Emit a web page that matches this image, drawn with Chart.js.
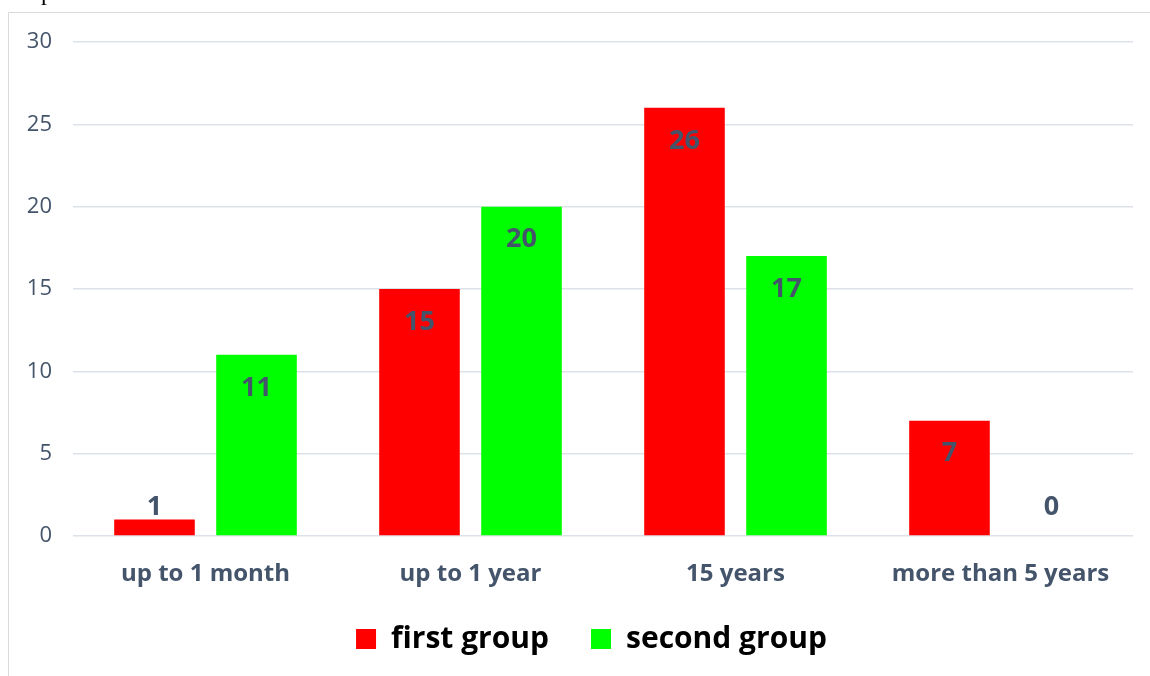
<!DOCTYPE html>
<html>
<head>
<meta charset="utf-8">
<script src="https://cdn.jsdelivr.net/npm/chart.js@4"></script>
<style>
  html, body { margin: 0; padding: 0; background: #fff; }
  #wrap { width: 1150px; height: 676px; position: relative; }
</style>
</head>
<body>
<div id="wrap"><canvas id="myChart" width="1150" height="676"></canvas></div>
<script>
const categories = ["up to 1 month", "up to 1 year", "15 years", "more than 5 years"];
const firstGroup = [1, 15, 26, 7];
const secondGroup = [11, 20, 17, 0];
const seriesNames = ["first group", "second group"];
const yTicks = [0, 5, 10, 15, 20, 25, 30];

const labelColor = "#44546a";

// frame lines + the clipped "p" left over from the page above
const framePlugin = {
  id: "frame",
  afterLayout(chart) {
    // legend sits a bit right of centre and a bit higher in the original
    const lg = chart.legend;
    lg.left += 25;
    lg.right += 25;
    lg.top -= 12;
    lg.bottom -= 12;
  },
  beforeDraw(chart) {
    const ctx = chart.ctx;
    ctx.save();
    ctx.fillStyle = "#fff";
    ctx.fillRect(0, 0, chart.width, chart.height);
    ctx.strokeStyle = "#d9d9d9";
    ctx.lineWidth = 1;
    ctx.beginPath();
    ctx.moveTo(8.5, chart.height);
    ctx.lineTo(8.5, 12.5);
    ctx.lineTo(chart.width, 12.5);
    ctx.stroke();
    ctx.fillStyle = "#000";
    ctx.font = "24px 'Liberation Serif'";
    ctx.textAlign = "center";
    ctx.textBaseline = "alphabetic";
    ctx.fillText("p", 47, 0);
    ctx.restore();
  },
};

// value labels: inside the bar end, pushed above the baseline when the bar is short
const valueLabels = {
  id: "valueLabels",
  afterDatasetsDraw(chart) {
    const ctx = chart.ctx;
    const base = chart.scales.y.getPixelForValue(0);
    ctx.save();
    ctx.font = "bold 27px 'Open Sans'";
    ctx.fillStyle = labelColor;
    ctx.textAlign = "center";
    ctx.textBaseline = "middle";
    chart.data.datasets.forEach((ds, i) => {
      chart.getDatasetMeta(i).data.forEach((bar, j) => {
        const y = Math.min(bar.y + 33, base - 29);
        ctx.fillText(String(ds.data[j]), bar.x, y);
      });
    });
    ctx.restore();
  },
};

new Chart(document.getElementById("myChart"), {
  type: "bar",
  data: {
    labels: categories,
    datasets: [
      { label: seriesNames[0], data: firstGroup, backgroundColor: "#ff0000" },
      { label: seriesNames[1], data: secondGroup, backgroundColor: "#00ff00" },
    ],
  },
  options: {
    responsive: false,
    animation: false,
    layout: { padding: { top: 42, right: 17, left: 0, bottom: 0 } },
    datasets: {
      bar: { categoryPercentage: 0.77, barPercentage: 0.79 },
    },
    scales: {
      x: {
        grid: { display: false },
        border: { display: false },
        ticks: {
          color: labelColor,
          font: { family: "'Open Sans'", size: 24, weight: "bold" },
          padding: 16,
        },
        afterFit(s) { s.height = 58; },
      },
      y: {
        min: 0,
        max: 30,
        afterBuildTicks(s) { s.ticks = yTicks.map((v) => ({ value: v })); },
        grid: { color: "#dde1e8", lineWidth: 1.5, drawTicks: false },
        border: { display: false },
        ticks: {
          color: labelColor,
          font: { family: "'Open Sans'", size: 22 },
          padding: 21,
        },
        afterFit(s) { s.width = 73; },
      },
    },
    plugins: {
      legend: {
        position: "bottom",
        labels: {
          color: "#000",
          font: { family: "'Open Sans'", size: 30, weight: "bold" },
          boxWidth: 20,
          boxHeight: 20,
          padding: 42,
        },
      },
      tooltip: { enabled: false },
    },
  },
  plugins: [framePlugin, valueLabels],
});
</script>
</body>
</html>
